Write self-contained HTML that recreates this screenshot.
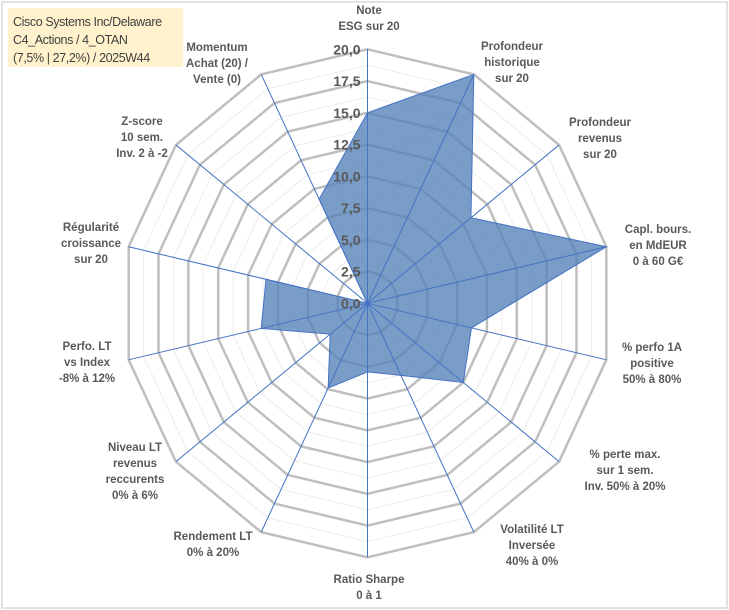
<!DOCTYPE html>
<html><head><meta charset="utf-8"><style>
body{margin:0;background:#fff;}
#wrap{position:relative;width:729px;height:610px;overflow:hidden;font-family:"Liberation Sans",Arial,sans-serif;}
.lbl{position:absolute;font-weight:bold;font-size:11.5px;color:#595959;text-align:center;line-height:16px;white-space:nowrap;transform:translateX(-50%);}
#title{position:absolute;left:8px;top:8px;width:175px;height:59px;background:#fff2cc;color:#404040;font-size:12.5px;letter-spacing:-0.4px;line-height:18px;padding:5px 0 0 5px;box-sizing:border-box;white-space:nowrap;overflow:hidden;}
</style></head><body>
<div id="wrap">
<svg id="svg" width="729" height="610" style="position:absolute;left:0;top:0">
<rect x="2" y="2" width="725" height="606" fill="none" stroke="#d9d9d9" stroke-width="1.5"/>
</svg>
<div id="title">Cisco Systems Inc/Delaware<br>C4_Actions / 4_OTAN<br>(7,5% | 27,2%) / 2025W44</div>
<div class="lbl" style="left:369px;top:3px">Note<br>ESG sur 20</div>
<div class="lbl" style="left:512px;top:39px">Profondeur<br>historique<br>sur 20</div>
<div class="lbl" style="left:600px;top:115px">Profondeur<br>revenus<br>sur 20</div>
<div class="lbl" style="left:658px;top:222px">Capl. bours.<br>en MdEUR<br>0 à 60 G€</div>
<div class="lbl" style="left:652px;top:340px">% perfo 1A<br>positive<br>50% à 80%</div>
<div class="lbl" style="left:625px;top:447px">% perte max.<br>sur 1 sem.<br>Inv. 50% à 20%</div>
<div class="lbl" style="left:532px;top:522px">Volatilité LT<br>Inversée<br>40% à 0%</div>
<div class="lbl" style="left:369px;top:572px">Ratio Sharpe<br>0 à 1</div>
<div class="lbl" style="left:213px;top:529px">Rendement LT<br>0% à 20%</div>
<div class="lbl" style="left:135px;top:440px">Niveau LT<br>revenus<br>reccurents<br>0% à 6%</div>
<div class="lbl" style="left:87px;top:339px">Perfo. LT<br>vs Index<br>-8% à 12%</div>
<div class="lbl" style="left:91px;top:220px">Régularité<br>croissance<br>sur 20</div>
<div class="lbl" style="left:142px;top:114px">Z-score<br>10 sem.<br>Inv. 2 à -2</div>
<div class="lbl" style="left:217px;top:40px">Momentum<br>Achat (20) /<br>Vente (0)</div>
</div>
<script>
const categories=["Note ESG","Profondeur historique","Profondeur revenus","Capl. bours.","% perfo 1A","% perte max","Volatilité LT","Ratio Sharpe","Rendement LT","Niveau LT revenus","Perfo LT","Régularité","Z-score","Momentum"];
const values=[15,20,10.8,20,8.7,10,6.3,5.4,7.4,3.9,8.9,8.5,0,9.1];
const tickLabels=["0,0","2,5","5,0","7,5","10,0","12,5","15,0","17,5","20,0"];
const tickValues=[0,2.5,5,7.5,10,12.5,15,17.5,20];
const maxV=20;
const cx=367.5,cy=303.3,rx=245,ry=254;
const NS="http://www.w3.org/2000/svg";
const svg=document.getElementById('svg');
const n=categories.length;
function pt(i,v){const a=i*2*Math.PI/n;return [cx+rx*(v/maxV)*Math.sin(a),cy-ry*(v/maxV)*Math.cos(a)];}
function mk(t,at){const e=document.createElementNS(NS,t);for(const k in at)e.setAttribute(k,at[k]);svg.appendChild(e);return e;}
for(let v=1.25;v<=maxV;v+=2.5){
 const p=[];for(let i=0;i<n;i++)p.push(pt(i,v).join(','));
 const e=mk('polygon',{points:p.join(' '),fill:'none',stroke:'#ececec','stroke-width':1});
 
 
}
tickValues.forEach(v=>{if(v===0)return;
 const p=[];for(let i=0;i<n;i++)p.push(pt(i,v).join(','));
 const e=mk('polygon',{points:p.join(' '),fill:'none',stroke:'#bfbfbf','stroke-width':2.5});
 
 
});
const dp=values.map((v,i)=>pt(i,v).join(','));
const poly=mk('polygon',{points:dp.join(' '),fill:'#5582b8','fill-opacity':0.78,stroke:'#4472c4','stroke-width':1});


for(let i=0;i<n;i++){const [x,y]=pt(i,maxV);
 const e=mk('line',{x1:cx,y1:cy,x2:x,y2:y,stroke:'#4472c4','stroke-width':1});
 
 
}
tickValues.forEach((v,k)=>{const [x,y]=pt(0,v);
 const t=mk('text',{x:x-7,y:y+5,'text-anchor':'end','font-family':'Liberation Sans, Arial, sans-serif','font-size':14,'font-weight':'bold',fill:'#595959'});
 t.textContent=tickLabels[k];
 
 
});
</script>
</body></html>
